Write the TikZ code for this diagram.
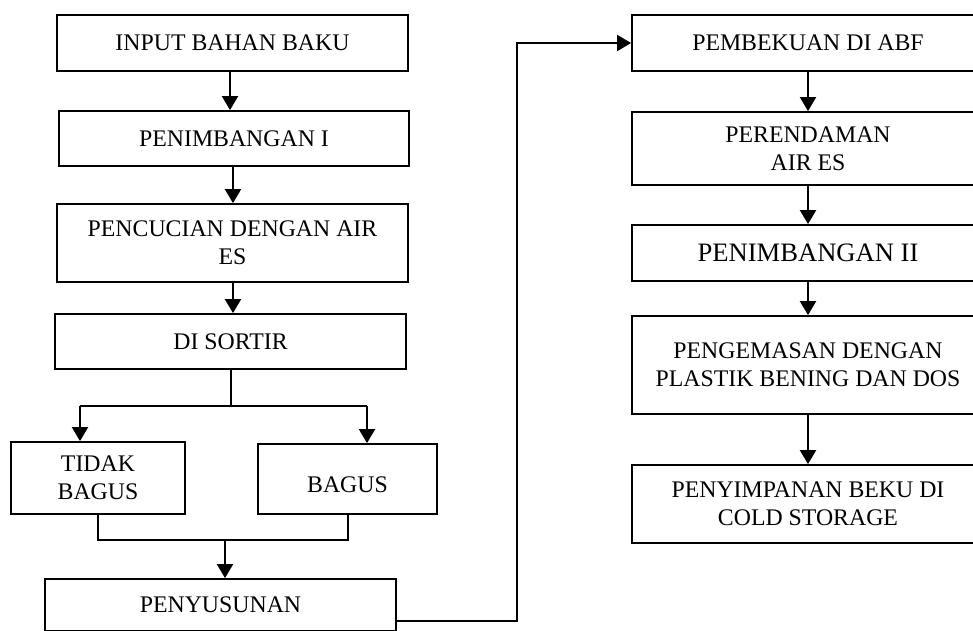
\documentclass[tikz,border=0pt]{standalone}
\usepackage{fontspec}
\setmainfont{Liberation Serif}
\usetikzlibrary{arrows.meta}
\begin{document}
\begin{tikzpicture}[x=1pt,y=-1pt,
  box/.style={draw,line width=1.8pt,rectangle,inner sep=0pt,align=center,
    font=\fontsize{23.8}{27.6}\selectfont},
  arr/.style={line width=2pt,-{Triangle[width=16pt,length=14pt]}},
  ln/.style={line width=2pt}]
\useasboundingbox (0,0) rectangle (973,630);
\clip (0,0) rectangle (973,630);
% left column
\node[box,minimum width=351pt,minimum height=56pt] (in) at (232.5,43) {INPUT BAHAN BAKU};
\node[box,minimum width=350pt,minimum height=55pt] (p1) at (234,138.5) {PENIMBANGAN I};
\node[box,minimum width=351pt,minimum height=78pt] (cuci) at (232.5,243) {PENCUCIAN DENGAN AIR\\ES};
\node[box,minimum width=351pt,minimum height=55pt] (sort) at (230.5,341.5) {DI SORTIR};
\node[box,minimum width=174pt,minimum height=72pt] (tidak) at (98,478) {TIDAK\\BAGUS};
\node[box,minimum width=179pt,minimum height=70pt] (bagus) at (347.5,479) {\raisebox{-6pt}[\height][\depth]{BAGUS}};
\node[box,minimum width=351pt,minimum height=52pt] (pen) at (220.5,605) {PENYUSUNAN};
% right column
\node[box,minimum width=352pt,minimum height=56pt] (abf) at (808,43) {PEMBEKUAN DI ABF};
\node[box,minimum width=352pt,minimum height=73pt] (rend) at (808,148.5) {PERENDAMAN\\AIR ES};
\node[box,minimum width=352pt,minimum height=56pt,font=\fontsize{26.6}{30}\selectfont] (p2) at (808,253) {PENIMBANGAN II};
\node[box,minimum width=352pt,minimum height=98pt] (kemas) at (808,365) {PENGEMASAN DENGAN\\PLASTIK BENING DAN DOS};
\node[box,minimum width=352pt,minimum height=78pt] (simpan) at (808,504) {PENYIMPANAN BEKU DI\\COLD STORAGE};
% coordinates
\coordinate (sl) at (80,406);
\coordinate (sr) at (367,406);
\coordinate (mg) at (225,540);
\coordinate (up) at (517,0);
% left arrows
\draw[arr] (230,0 |- in.south) -- (230,0 |- p1.north);
\draw[arr] (233,0 |- p1.south) -- (233,0 |- cuci.north);
\draw[arr] (233,0 |- cuci.south) -- (233,0 |- sort.north);
\draw[ln] (sort.south) -- (sort.south |- sl);
\draw[ln] (sl) -- (sr);
\draw[arr] (sl) -- (sl |- tidak.north);
\draw[arr] (sr) -- (sr |- bagus.north);
\draw[ln] (tidak.south) |- (mg) -| (bagus.south);
\draw[arr] (mg) -- (mg |- pen.north);
% long connector
\draw[arr] ([yshift=-16pt]pen.east) -| (up |- abf.west) -- (abf.west);
% right arrows
\draw[arr] (abf.south) -- (rend.north);
\draw[arr] (rend.south) -- (p2.north);
\draw[arr] (p2.south) -- (kemas.north);
\draw[arr] (kemas.south) -- (simpan.north);
\end{tikzpicture}
\end{document}
